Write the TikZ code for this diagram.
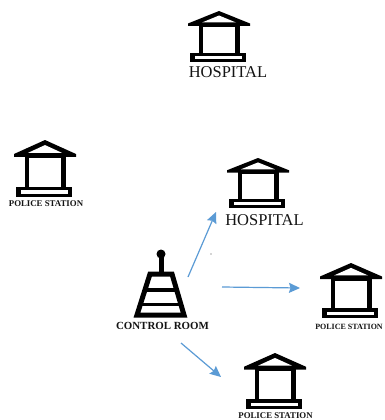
\documentclass[tikz,border=0pt]{standalone}
\usepackage{fontspec}
\setmainfont{Liberation Serif}
\usetikzlibrary{arrows.meta}
\definecolor{linkblue}{HTML}{5B9BD5}
\tikzset{
  linkarrow/.style={draw=linkblue,line width=1.2pt,-{Stealth[length=11pt,width=10pt,inset=1.5pt]}},
  hosplabel/.style={inner sep=0pt,text=black!92,font=\fontsize{16.5}{18}\selectfont},
  policelabel/.style={inner sep=0pt,text=black!92,font=\fontsize{8.8}{10}\selectfont\bfseries},
  policesmall/.style={inner sep=0pt,text=black!92,font=\fontsize{8}{10}\selectfont\bfseries},
  ctrllabel/.style={inner sep=0pt,text=black!92,font=\fontsize{10.9}{12}\selectfont\bfseries},
  ink/.style={fill=black,draw=none},
  hole/.style={fill=white,draw=none}
}
\newcommand{\buildingicon}[3]{%
  \begin{scope}[shift={(#1,#2)},yscale=#3]
    \path[ink] (0,0) -- (31,12.5) -- (31,15) -- (-31,15) -- (-31,12.5) -- cycle;
    \path[hole] (0,4.5) -- (17,11.5) -- (-17,11.5) -- cycle;
    \path[ink] (-20.5,14) rectangle (20.5,42.5);
    \path[hole] (-16,16.5) rectangle (16,42.5);
    \path[ink] (-29,42) rectangle (27,51);
    \path[hole] (-24.5,45) rectangle (22.5,48);
  \end{scope}}
\begin{document}
\begin{tikzpicture}[x=1pt,y=-1pt]
  \clip (0,0) rectangle (384,420);
  \fill[white] (0,0) rectangle (384,420);

  \buildingicon{219}{11}{1}
  \buildingicon{45}{140}{1.12}
  \buildingicon{258}{158}{0.98}
  \buildingicon{351}{263}{1.08}
  \buildingicon{275}{353}{1.1}

  \node[hosplabel] (hospA) at (228,72) {HOSPITAL};
  \node[policelabel] (policeA) at (46,204) {POLICE STATION};
  \node[hosplabel] (hospB) at (264.5,220) {HOSPITAL};
  \node[policesmall] (policeB) at (349,327) {POLICE STATION};
  \node[policelabel] (policeC) at (275.5,416) {POLICE STATION};
  \node[ctrllabel] (ctrl) at (162.5,326) {CONTROL ROOM};

  % control tower
  \draw[black,line width=5pt,line join=miter]
    (150,274) -- (172,274) -- (184,315) -- (137,315) -- cycle;
  \draw[black,line width=3.5pt] (145,290) -- (177,290);
  \draw[black,line width=3.5pt] (141,304.5) -- (181,304.5);
  \draw[black,line width=5pt] (161,272) -- (161,255);
  \fill[black] (161,254) circle (4.5pt);

  \coordinate (a1s) at (188,277);
  \coordinate (a1e) at (216,212);
  \coordinate (a2s) at (222,287);
  \coordinate (a2e) at (300,288);
  \coordinate (a3s) at (181,343);
  \coordinate (a3e) at (221,377);
  \draw[linkarrow] (a1s) -- (a1e);
  \draw[linkarrow] (a2s) -- (a2e);
  \draw[linkarrow] (a3s) -- (a3e);

  \fill[black!70] (211,254) circle (0.6pt);
\end{tikzpicture}
\end{document}
